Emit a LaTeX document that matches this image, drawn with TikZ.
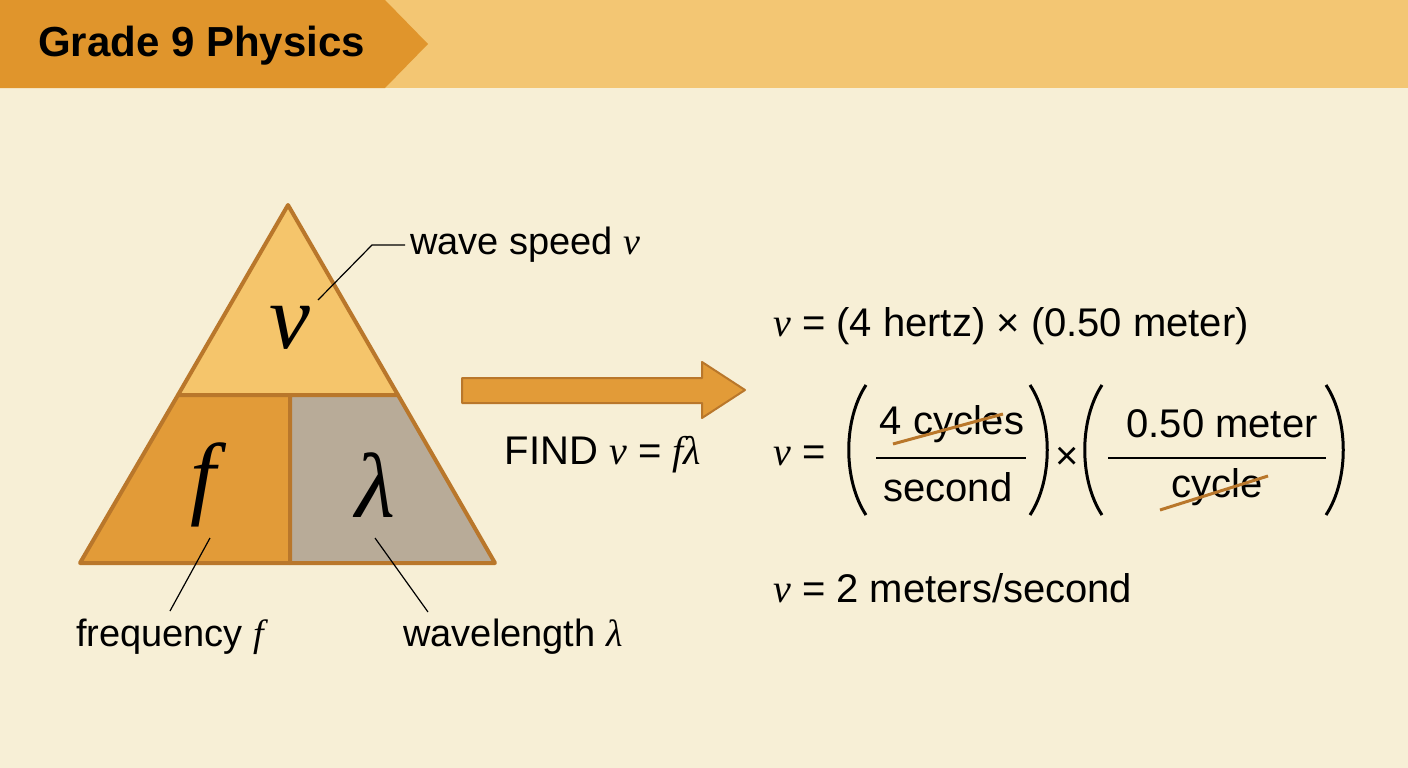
\documentclass[tikz,border=0pt]{standalone}
\usepackage{fontspec}
\setmainfont{Liberation Sans}
\newfontfamily\greekfont{Liberation Serif}
\usetikzlibrary{positioning}
\definecolor{page color}{HTML}{F7EFD6}
\definecolor{banner color}{HTML}{F3C673}
\definecolor{tab color}{HTML}{E0952C}
\definecolor{top color}{HTML}{F5C56B}
\definecolor{freq color}{HTML}{E29B38}
\definecolor{wave color}{HTML}{B8AB98}
\definecolor{edge color}{HTML}{B9772B}
\newcommand{\gk}[1]{{\greekfont\itshape #1}}
\tikzset{
    x={1pt},
    y={-1pt},
    piece/.style={
        draw=edge color,
        line width={4pt},
        line join=round,
    },
    big letter/.style={
        font={\fontsize{92}{100}\selectfont},
    },
    caption/.style={
        font={\fontsize{38}{44}\selectfont},
        inner sep=0pt,
    },
    formula/.style={
        font={\fontsize{40}{46}\selectfont},
        inner sep=0pt,
    },
    leader/.style={
        draw=black,
        line width={1.2pt},
    },
    paren/.style={
        draw=black,
        line width={3pt},
    },
    strike/.style={
        draw=edge color,
        line width={3pt},
    },
}
\begin{document}
\begin{tikzpicture}
% background
\fill[page color] (0,0) rectangle (1408,768);
\fill[banner color] (0,0) rectangle (1408,88);
\fill[tab color] (0,0) -- (385,0) -- (428,44) -- (385,88) -- (0,88) -- cycle;
\node[font={\fontsize{42}{48}\selectfont\bfseries}, anchor=west, inner sep=0pt] (title) at (38,46) {Grade 9 Physics};
% triangle
\path[piece, fill=top color] (288,205) -- (398,395) -- (178,395) -- cycle;
\path[piece, fill=freq color] (178,395) -- (290,395) -- (290,563) -- (80,563) -- cycle;
\path[piece, fill=wave color] (290,395) -- (398,395) -- (495,563) -- (290,563) -- cycle;
\node[big letter] (speed) at (290,328) {\gk{ν}};
\node[big letter] (freq) at (203,485) {\gk{f}};
\node[big letter] (wave) at (375,485) {\gk{λ}};
% labels
\node[caption, anchor=west] (speed label) at (410,245) {wave speed \gk{ν}};
\node[caption] (freq label) at (170,637) {frequency \gk{f}};
\node[caption] (wave label) at (513,637) {wavelength \gk{λ}};
\coordinate (speed tip) at (318,300);
\coordinate (freq tip) at (210,538);
\coordinate (wave tip) at (375,538);
\draw[leader] (speed tip) -- (372,245) -- ([xshift=-5pt]speed label.west);
\draw[leader] (freq tip) -- ([yshift=8pt]freq label.north);
\draw[leader] (wave tip) -- (428,612);
% arrow
\path[draw=edge color, fill=freq color, line width={2pt}, line join=round]
    (462,378) -- (702,378) -- (702,362) -- (745,390) -- (702,418) -- (702,403) -- (462,403) -- cycle;
\node[formula] (find) at (603,455) {FIND \gk{ν} = \gk{f}\gk{λ}};
% equations
\node[formula, anchor=west] (line one) at (773,326) {\gk{ν} = (4 hertz) × (0.50 meter)};
\node[formula, anchor=west] (line two) at (773,456) {\gk{ν} =};
\node[formula] (num one) at (952,424) {4 cycles};
\node[formula] (den one) at (948,487) {second};
\node[formula] (times) at (1067,458) {×};
\node[formula] (num two) at (1222,424) {0.50 meter};
\node[formula] (den two) at (1217,487) {cycle};
\draw[line width={2pt}] (876,458) -- (1026,458);
\draw[line width={2pt}] (1108,458) -- (1326,458);
\path[paren] (866,385) .. controls (843,420) and (843,480) .. (866,515);
\path[paren] (1030,385) .. controls (1053,420) and (1053,480) .. (1030,515);
\path[paren] (1102,385) .. controls (1079,420) and (1079,480) .. (1102,515);
\path[paren] (1326,385) .. controls (1349,420) and (1349,480) .. (1326,515);
\path[strike] (893,444) -- (1003,414);
\path[strike] (1160,510) -- (1268,476);
\node[formula, anchor=west] (line three) at (773,588) {\gk{ν} = 2 meters/second};
\end{tikzpicture}
\end{document}
